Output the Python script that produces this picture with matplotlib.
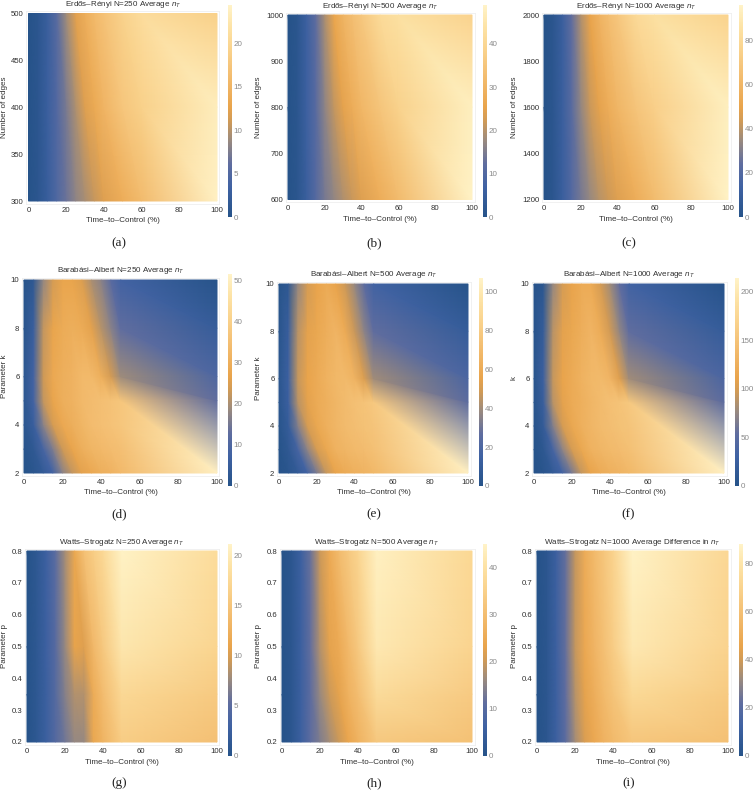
#!/usr/bin/env python3
# -*- coding: utf-8 -*-

import matplotlib
matplotlib.use("Agg")
import matplotlib.pyplot as plt
from matplotlib.colors import LinearSegmentedColormap, Normalize
from matplotlib.tri import Triangulation

plt.rcParams['font.family'] = ['Liberation Sans', 'DejaVu Sans']
plt.rcParams['mathtext.fontset'] = 'custom'
plt.rcParams['mathtext.it'] = 'Liberation Sans:italic'
plt.rcParams['mathtext.rm'] = 'Liberation Sans'

W, H = 753, 790

# 数据节点
er_x = [0, 5, 10, 15, 20, 25, 30, 35, 40, 50, 60, 100]
ba_x = [0, 5, 10, 15, 20, 25, 30, 35, 40, 45, 50]
ws_x = [0, 5, 10, 15, 20, 25, 30, 35, 40, 50, 100]
ba_k = [2, 3, 4, 5, 6, 8, 10]
ba_k_right = [2, 5, 6, 8, 10]  # x=100 上的节点

er_y = [[300, 400, 500], [600, 800, 1000], [1200, 1600, 2000]]
ws_y = [0.2, 0.35, 0.5, 0.8]

er250 = [
    [0, 0.8, 2.5, 4.8, 6.6, 8.2, 9.4, 10.6, 12, 14, 16, 24],
    [0, 0.8, 2.8, 5, 7.3, 9.6, 12, 13.5, 15, 17.5, 19, 23.5],
    [0, 0.8, 2.7, 5.6, 9, 12.2, 14.2, 15.8, 17, 19.2, 20.8, 19],
]
er500 = [
    [0, 1.5, 5.5, 10.5, 14.5, 17, 19.5, 21.5, 24, 28, 32, 48.5],
    [0, 1.5, 6, 11, 16.5, 21, 25, 28, 31, 35, 38.5, 47.5],
    [0, 1.5, 6, 12, 19, 26, 30, 33, 35.5, 41, 43, 39],
]
er1000 = [
    [0, 3, 11, 20, 28, 34, 39, 43, 47, 55, 63, 95],
    [0, 3, 11, 22, 33, 42, 49, 55, 60, 68, 74, 93],
    [0, 3, 11, 24, 38, 50, 58, 64, 69, 80, 84, 76],
]
ba250 = [
    [0.5, 1.5, 4, 8, 17, 22, 26, 28, 30, 31, 33],
    [1, 3, 9, 16, 23, 27, 30, 32, 33, 34, 35],
    [2, 6, 17, 24, 28, 30, 32, 34, 35, 36, 37],
    [2, 8, 22, 27, 30, 31, 33, 34, 35, 36, 37],
    [2, 8, 23, 28, 30, 31, 33, 33, 30, 24, 19],
    [1, 6, 22, 27, 29, 30, 29, 26, 21, 17, 13],
    [0.5, 3, 18, 24, 27, 27, 25, 20, 17, 12, 8],
]
ba250_right = [50.5, 13, 10, 5, 0.5]
ba500 = [
    [0.5, 3, 8, 16, 32, 46, 56, 60, 63, 65, 68],
    [1, 6, 18, 36, 50, 58, 64, 67, 69, 71, 73],
    [2, 10, 34, 50, 58, 63, 67, 70, 72, 74, 76],
    [3, 13, 44, 54, 60, 63, 67, 70, 73, 75, 78],
    [3, 14, 46, 56, 60, 64, 68, 69, 65, 52, 40],
    [2, 12, 44, 54, 58, 62, 66, 60, 47, 36, 27],
    [1, 6, 38, 50, 56, 60, 56, 48, 38, 26, 16],
]
ba500_right = [105, 26, 20, 10, 1]
ba1000 = [
    [1, 5, 16, 32, 64, 92, 112, 120, 126, 130, 136],
    [2, 10, 36, 72, 100, 116, 128, 134, 138, 142, 146],
    [3, 18, 68, 100, 116, 126, 134, 140, 144, 148, 152],
    [4, 24, 88, 108, 120, 126, 134, 140, 146, 150, 156],
    [4, 26, 92, 112, 120, 128, 136, 138, 132, 106, 80],
    [3, 20, 88, 108, 116, 124, 132, 122, 98, 74, 54],
    [1, 8, 76, 100, 112, 120, 120, 100, 80, 54, 32],
]
ba1000_right = [210, 52, 40, 20, 1]
ws250 = [
    [0, 1, 2.5, 4.5, 6, 7.5, 7.5, 11.5, 13, 16, 14.5],
    [0, 1, 2.5, 4.6, 6.8, 8.5, 8.5, 12, 14, 17.5, 15.7],
    [0, 1, 2.6, 4.8, 7.5, 11, 10.5, 13.5, 15.5, 19.5, 17],
    [0, 1, 2.6, 5, 8, 11.5, 14.5, 16, 17.5, 21, 18],
]
ws500 = [
    [0, 1.5, 5.5, 11, 14, 17, 20, 24, 27, 33, 31],
    [0, 1.5, 5.5, 11, 16, 20, 23, 27, 30, 38, 33.5],
    [0, 1.5, 5.5, 11.5, 18, 23, 25, 29, 33, 42, 36],
    [0, 1.5, 5.5, 12, 20, 25, 29.5, 33, 36, 44, 37],
]
ws1000 = [
    [0, 3, 11, 21, 33, 42, 48, 53, 57, 63, 60],
    [0, 3, 11, 22, 36, 45, 51, 57, 62, 73, 65],
    [0, 3, 11, 23, 38, 48, 54, 60, 67, 82, 70],
    [0, 3, 11, 23, 38, 50, 57, 63, 70, 87, 72],
]

titles = [
    'Erdős–Rényi N=250 Average $n_T$', 'Erdős–Rényi N=500 Average $n_T$', 'Erdős–Rényi N=1000 Average $n_T$',
    'Barabási–Albert N=250 Average $n_T$', 'Barabási–Albert N=500 Average $n_T$', 'Barabási–Albert N=1000 Average $n_T$',
    'Watts–Strogatz N=250 Average $n_T$', 'Watts–Strogatz N=500 Average $n_T$', 'Watts–Strogatz N=1000 Average Difference in $n_T$',
]
captions = ['(a)', '(b)', '(c)', '(d)', '(e)', '(f)', '(g)', '(h)', '(i)']
ylabels = ['Number of edges'] * 3 + ['Parameter k', 'Parameter k', 'k'] + ['Parameter p'] * 3
yticks = [
    [300, 350, 400, 450, 500], [600, 700, 800, 900, 1000], [1200, 1400, 1600, 1800, 2000],
    [2, 4, 6, 8, 10], [2, 4, 6, 8, 10], [2, 4, 6, 8, 10],
    [0.2, 0.3, 0.4, 0.5, 0.6, 0.7, 0.8], [0.2, 0.3, 0.4, 0.5, 0.6, 0.7, 0.8], [0.2, 0.3, 0.4, 0.5, 0.6, 0.7, 0.8],
]
vmaxs = [24.4, 49, 96, 51.5, 107, 214, 21.2, 45, 88]
cbar_ticks = [
    [0, 5, 10, 15, 20], [0, 10, 20, 30, 40], [0, 20, 40, 60, 80],
    [0, 10, 20, 30, 40, 50], [0, 20, 40, 60, 80, 100], [0, 50, 100, 150, 200],
    [0, 5, 10, 15, 20], [0, 10, 20, 30, 40], [0, 20, 40, 60, 80],
]

# 像素位置: 绘图区 (左, 右, 上, 下), 色条 (左, 右, 上, 下)
plot_boxes = [
    (28.5, 217, 13.5, 201), (288, 472, 15, 199.5), (544, 728, 15, 199.5),
    (24, 217, 280, 473), (279, 468, 284, 473), (534, 724, 284, 473),
    (27, 217, 551, 742), (282, 472, 551, 742), (537, 728, 551, 742),
]
cbar_boxes = [
    (228, 231.5, 5, 217), (483, 486.5, 5, 217), (739, 742.5, 5, 217),
    (228, 231.5, 274, 486), (479, 482.5, 278, 486), (735, 738.5, 278, 486),
    (228, 231.5, 544, 756), (483, 486.5, 544, 756), (739, 742.5, 544, 756),
]
ylabel_x = [5, 259, 515, 4, 259, 514, 4, 259, 515]
caption_x = [119, 374, 629, 119, 374, 628, 119, 374, 629]
caption_y = [246] * 3 + [517] * 3 + [786] * 3

cmap = LinearSegmentedColormap.from_list('sunset', [
    (0.00, '#265389'), (0.14, '#3f62a3'), (0.25, '#5f6d9f'), (0.36, '#9a8a7f'),
    (0.45, '#cf9a57'), (0.52, '#e9a44c'), (0.65, '#f2ba6c'), (0.80, '#fad48f'),
    (0.90, '#fde3a6'), (1.00, '#fff3c8'),
])


def to_rect(box):
    left, right, top, bottom = box
    return [left / W, 1 - bottom / H, (right - left) / W, (bottom - top) / H]


def grid_mesh(xs, ys, rows):
    """规则网格的三角剖分, 对角线从左上到右下"""
    px, py, pv, tris = [], [], [], []
    nx = len(xs)
    for j, y in enumerate(ys):
        for i, x in enumerate(xs):
            px.append(x)
            py.append(y)
            pv.append(rows[j][i])
    for j in range(len(ys) - 1):
        for i in range(nx - 1):
            a, b = j * nx + i, j * nx + i + 1
            c, d = a + nx, b + nx
            tris += [[a, b, c], [b, d, c]]
    return px, py, pv, tris


def ba_mesh(rows, right):
    """BA 图: x<=50 用细网格, x=100 节点较少; k<5 的部分从 (100,2) 呈扇形连接"""
    px, py, pv, tris = grid_mesh(ba_x, ba_k, rows)
    nx, base = len(ba_x), len(px)
    for k, v in zip(ba_k_right, right):
        px.append(100)
        py.append(k)
        pv.append(v)
    edge = {k: (j + 1) * nx - 1 for j, k in enumerate(ba_k)}  # x=50 这一列
    r2, r5, r6, r8, r10 = [base + n for n in range(5)]
    tris += [[edge[2], r2, edge[3]], [edge[3], r2, edge[4]], [edge[4], r2, edge[5]],
             [edge[5], r2, r5],
             [edge[5], r5, edge[6]], [edge[6], r5, r6],
             [edge[6], r6, edge[8]], [edge[8], r6, r8],
             [edge[8], r8, edge[10]], [edge[10], r8, r10]]
    return px, py, pv, tris


meshes = [
    grid_mesh(er_x, er_y[0], er250), grid_mesh(er_x, er_y[1], er500), grid_mesh(er_x, er_y[2], er1000),
    ba_mesh(ba250, ba250_right), ba_mesh(ba500, ba500_right), ba_mesh(ba1000, ba1000_right),
    grid_mesh(ws_x, ws_y, ws250), grid_mesh(ws_x, ws_y, ws500), grid_mesh(ws_x, ws_y, ws1000),
]


def draw_panel(fig, i):
    pad = 2.5  # Mathematica 风格的边距
    left, right, top, bottom = plot_boxes[i]
    ax = fig.add_axes(to_rect((left - pad, right + pad, top - pad, bottom + pad)))
    w_px, h_px = right - left + 2 * pad, bottom - top + 2 * pad

    px, py, pv, tris = meshes[i]
    tri = Triangulation(px, py, tris)
    im = ax.tripcolor(tri, pv, shading='gouraud', cmap=cmap, norm=Normalize(0, vmaxs[i]))

    ymin, ymax = min(py), max(py)
    xpad = pad * 100 / (right - left)
    ypad = pad * (ymax - ymin) / (bottom - top)
    ax.set_xlim(-xpad, 100 + xpad)
    ax.set_ylim(ymin - ypad, ymax + ypad)

    ax.set_xticks([0, 20, 40, 60, 80, 100])
    ax.set_yticks(yticks[i])
    if ymax < 1:
        ax.set_yticklabels([f'{t:.1f}' for t in yticks[i]])
    ax.tick_params(axis='x', length=0, labelsize=5.6, colors='#303030', pad=2.2)
    ax.tick_params(axis='y', length=0, labelsize=5.6, colors='#303030', pad=1.5)
    for spine in ax.spines.values():
        spine.set_color('#efefef')
        spine.set_linewidth(0.6)

    ax.set_xlabel('Time–to–Control (%)', fontsize=5.8, color='#303030', va='center')
    ax.xaxis.set_label_coords(0.5, -(20 - pad) / h_px)
    ax.set_ylabel(ylabels[i], fontsize=5.8, color='#303030', va='center')
    ax.yaxis.set_label_coords((ylabel_x[i] - (left - pad)) / w_px, 0.5)
    ax.set_title(titles[i], fontsize=5.8, color='#303030', va='center', pad=0, y=1 + (9 - pad) / h_px)

    cax = fig.add_axes(to_rect(cbar_boxes[i]))
    cb = fig.colorbar(im, cax=cax)
    cb.outline.set_visible(False)
    cb.set_ticks(cbar_ticks[i])
    cax.tick_params(length=0, labelsize=5.8, colors='#8a8a8a', pad=1.5)

    fig.text(caption_x[i] / W, 1 - caption_y[i] / H, captions[i], ha='center', va='baseline',
             fontsize=9.5, family='Liberation Serif', color='#222222')


def main():
    fig = plt.figure(figsize=(W / 100, H / 100), dpi=100, facecolor='white')
    for i in range(len(meshes)):
        draw_panel(fig, i)
    fig.savefig('out.png', dpi=100)
    plt.close(fig)


if __name__ == "__main__":
    main()
